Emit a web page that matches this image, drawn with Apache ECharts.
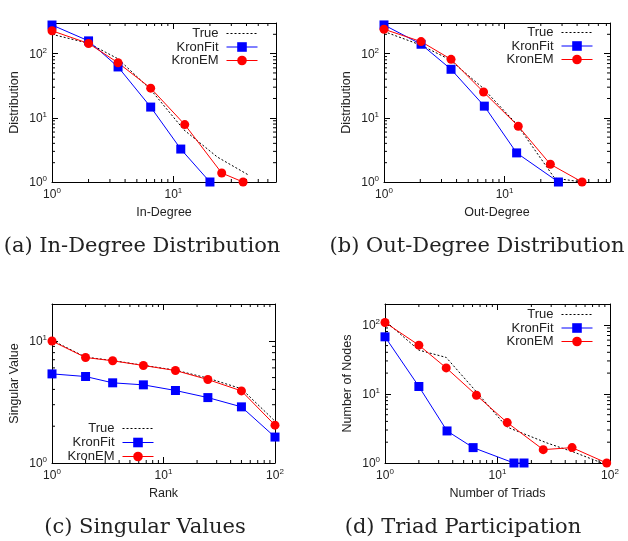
<!DOCTYPE html>
<html>
<head>
<meta charset="utf-8">
<script src="https://cdn.jsdelivr.net/npm/echarts@6/dist/echarts.min.js"></script>
<style>
html,body{margin:0;padding:0;background:#fff;}
#chart{width:628px;height:541px;}
</style>
</head>
<body>
<div id="chart"></div>
<script>
// ---- (a) In-Degree Distribution ----
const inTrueX = [1, 2, 3.5, 6.5, 12.2, 23, 42];
const inTrueY = [200, 145, 83, 27.5, 6.5, 2.45, 1.27];
const inFitX  = [1, 2, 3.5, 6.5, 11.5, 20];
const inFitY  = [279, 158, 62, 14.7, 3.26, 1];
const inEmX   = [1, 2, 3.5, 6.5, 12.4, 25, 37.5];
const inEmY   = [227, 144, 72, 29, 7.85, 1.38, 1];

// ---- (b) Out-Degree Distribution ----
const outTrueX = [1, 2, 3.5, 6.5, 12.6, 26, 44];
const outTrueY = [221, 137, 81, 30, 8, 1.15, 1];
const outFitX  = [1, 2.03, 3.6, 6.8, 12.6, 28];
const outFitY  = [280, 140, 57, 15.2, 2.84, 1];
const outEmX   = [1, 2.03, 3.6, 6.7, 13, 24, 44];
const outEmY   = [240, 154, 81.5, 25.2, 7.4, 1.89, 1];

// ---- (c) Singular Values ----
const rank   = [1, 2, 3.5, 6.6, 12.8, 25, 50, 100];
const svTrue = [10.1, 7.35, 6.9, 6.3, 5.75, 4.95, 4.05, 2.2];
const svFit  = [5.36, 5.1, 4.53, 4.36, 3.92, 3.43, 2.88, 1.63];
const svEm   = [9.95, 7.3, 6.86, 6.28, 5.71, 4.82, 3.89, 2.04];

// ---- (d) Triad Participation ----
const triTrueX = [1, 2, 3.5, 6.5, 12.1, 27.5, 47.5, 85];
const triTrueY = [114, 43, 33.7, 10.7, 3.32, 1.95, 1.44, 1];
const triFitX  = [1, 2, 3.56, 6.07, 14, 17.2];
const triFitY  = [67, 12.8, 2.91, 1.67, 1, 1];
const triEmX   = [1, 2, 3.5, 6.5, 12.2, 25.5, 46, 93.5];
const triEmY   = [108, 50.7, 23.8, 9.56, 3.84, 1.56, 1.67, 1];

// ---- axis text and minor tick values ----
const seriesNames = ['True', 'KronFit', 'KronEM'];
const minorTickValues = [2,3,4,5,6,7,8,9,20,30,40,50,60,70,80,90,200,300,400,500,600,700,800,900];
const panelTitles = ['(a) In-Degree Distribution', '(b) Out-Degree Distribution', '(c) Singular Values', '(d) Triad Participation'];
const xNames = ['In-Degree', 'Out-Degree', 'Rank', 'Number of Triads'];
const yNames = ['Distribution', 'Distribution', 'Singular Value', 'Number of Nodes'];
const xRanges = [[1, 70], [1, 75], [1, 100], [1, 100]];
const yRanges = [[1, 300], [1, 300], [1, 20], [1, 200]];

const panels = [
  {trueX: inTrueX, trueY: inTrueY, fitX: inFitX, fitY: inFitY, emX: inEmX, emY: inEmY},
  {trueX: outTrueX, trueY: outTrueY, fitX: outFitX, fitY: outFitY, emX: outEmX, emY: outEmY},
  {trueX: rank, trueY: svTrue, fitX: rank, fitY: svFit, emX: rank, emY: svEm},
  {trueX: triTrueX, trueY: triTrueY, fitX: triFitX, fitY: triFitY, emX: triEmX, emY: triEmY}
];

// layout (pixels)
const grids = [
  {left: 52, top: 23, width: 224, height: 159},
  {left: 384, top: 23, width: 226, height: 159},
  {left: 52, top: 304, width: 223, height: 159},
  {left: 385, top: 304, width: 225, height: 159}
];
const legendPos = [
  {right: 370, top: 27, itemGap: 0.5},
  {right: 35, top: 26, itemGap: 0.5},
  {right: 474, top: 422, itemGap: 1},
  {right: 35, top: 308, itemGap: 0.5}
];
const titlePos = [[142, 247], [477, 247], [145, 528], [463, 528]];

const zip = (xs, ys) => xs.map((x, i) => [x, ys[i]]);

function powLabel(v) {
  const e = Math.round(Math.log10(v));
  if (Math.abs(Math.pow(10, e) - v) > 1e-6 * v) return '';
  return '{b|10}{s|' + e + '}';
}
const labelRich = {
  b: {fontSize: 12, fontFamily: 'Liberation Sans', color: '#222', lineHeight: 14, verticalAlign: 'bottom'},
  s: {fontSize: 8, fontFamily: 'Liberation Sans', color: '#222', lineHeight: 9, verticalAlign: 'top'}
};
const lineBlack = {color: '#000', width: 1};

const xAxes = [], yAxes = [], series = [], legends = [], graphics = [];

function minorX(params, api) {
  const cs = params.coordSys;
  const p = api.coord([api.value(0), api.value(1)]);
  const yb = cs.y + cs.height, yt = cs.y;
  return {type: 'group', children: [
    {type: 'line', shape: {x1: p[0], y1: yb, x2: p[0], y2: yb - 3}, style: {stroke: '#000', lineWidth: 1}},
    {type: 'line', shape: {x1: p[0], y1: yt, x2: p[0], y2: yt + 3}, style: {stroke: '#000', lineWidth: 1}}
  ]};
}
function minorY(params, api) {
  const cs = params.coordSys;
  const p = api.coord([api.value(0), api.value(1)]);
  const xl = cs.x, xr = cs.x + cs.width;
  return {type: 'group', children: [
    {type: 'line', shape: {x1: xl, y1: p[1], x2: xl + 3, y2: p[1]}, style: {stroke: '#000', lineWidth: 1}},
    {type: 'line', shape: {x1: xr, y1: p[1], x2: xr - 3, y2: p[1]}, style: {stroke: '#000', lineWidth: 1}}
  ]};
}

panels.forEach((pn, g) => {
  const [xmin, xmax] = xRanges[g];
  const [ymin, ymax] = yRanges[g];
  const xi = xAxes.length, yi = yAxes.length;
  // main x (bottom)
  xAxes.push({
    type: 'log', logBase: 10, gridIndex: g, min: xmin, max: xmax, position: 'bottom',
    axisLine: {show: true, onZero: false, lineStyle: lineBlack},
    axisTick: {show: true, inside: true, length: 6, lineStyle: lineBlack},
    axisLabel: {show: true, margin: 5, formatter: powLabel, rich: labelRich, showMinLabel: true, showMaxLabel: true, hideOverlap: false},
    splitLine: {show: false}, minorTick: {show: false},
    name: xNames[g], nameLocation: 'middle', nameGap: 24,
    nameTextStyle: {fontSize: 12.5, fontFamily: 'Liberation Sans', color: '#222'}
  });
  // mirrored x (top)
  xAxes.push({
    type: 'log', logBase: 10, gridIndex: g, min: xmin, max: xmax, position: 'top',
    axisLine: {show: true, onZero: false, lineStyle: lineBlack},
    axisTick: {show: true, inside: true, length: 6, lineStyle: lineBlack},
    axisLabel: {show: false}, splitLine: {show: false}
  });
  yAxes.push({
    type: 'log', logBase: 10, gridIndex: g, min: ymin, max: ymax, position: 'left',
    axisLine: {show: true, onZero: false, lineStyle: lineBlack},
    axisTick: {show: true, inside: true, length: 6, lineStyle: lineBlack},
    axisLabel: {show: true, margin: 5, formatter: powLabel, rich: labelRich, showMinLabel: true, showMaxLabel: true, hideOverlap: false},
    splitLine: {show: false}, minorTick: {show: false},
    name: yNames[g], nameLocation: 'middle', nameGap: 31,
    nameTextStyle: {fontSize: 12.5, fontFamily: 'Liberation Sans', color: '#222'}
  });
  yAxes.push({
    type: 'log', logBase: 10, gridIndex: g, min: ymin, max: ymax, position: 'right',
    axisLine: {show: true, onZero: false, lineStyle: lineBlack},
    axisTick: {show: true, inside: true, length: 6, lineStyle: lineBlack},
    axisLabel: {show: false}, splitLine: {show: false}
  });

  // minor ticks
  series.push({
    type: 'custom', xAxisIndex: xi, yAxisIndex: yi, silent: true, clip: false,
    renderItem: minorX,
    data: minorTickValues.filter(v => v > xmin && v < xmax).map(v => [v, ymin])
  });
  series.push({
    type: 'custom', xAxisIndex: xi, yAxisIndex: yi, silent: true, clip: false,
    renderItem: minorY,
    data: minorTickValues.filter(v => v > ymin && v < ymax).map(v => [xmin, v])
  });

  series.push({
    name: 'True', type: 'line', xAxisIndex: xi, yAxisIndex: yi,
    data: zip(pn.trueX, pn.trueY), symbol: 'none', clip: false,
    color: '#000',
    lineStyle: {color: '#000', width: 1, type: [2, 2]}
  });
  series.push({
    name: 'KronFit', type: 'line', xAxisIndex: xi, yAxisIndex: yi,
    data: zip(pn.fitX, pn.fitY), symbol: 'rect', symbolSize: 9, clip: false,
    color: '#0000ff',
    itemStyle: {color: '#0000ff'},
    lineStyle: {color: '#0000ff', width: 1}
  });
  series.push({
    name: 'KronEM', type: 'line', xAxisIndex: xi, yAxisIndex: yi,
    data: zip(pn.emX, pn.emY), symbol: 'circle', symbolSize: 9, clip: false,
    color: '#ff0000',
    itemStyle: {color: '#ff0000'},
    lineStyle: {color: '#ff0000', width: 1}
  });

  const lp = legendPos[g];
  legends.push({
    orient: 'vertical', align: 'right', right: lp.right, top: lp.top, padding: 0,
    itemWidth: 31, itemHeight: 12, itemGap: lp.itemGap, selectedMode: false,
    lineStyle: {width: 1},
    data: [{name: seriesNames[0], itemStyle: {opacity: 0}}, seriesNames[1], seriesNames[2]],
    textStyle: {fontSize: 13, fontFamily: 'Liberation Sans', color: '#222', padding: [0, 3, 0, 0]}
  });

  graphics.push({
    type: 'text', x: titlePos[g][0], y: titlePos[g][1],
    style: {text: panelTitles[g], fontSize: 21, fontFamily: 'DejaVu Serif', fill: '#222', align: 'center', verticalAlign: 'middle'}
  });
});

const chart = echarts.init(document.getElementById('chart'), null, {renderer: 'canvas'});
chart.setOption({
  animation: false,
  backgroundColor: '#fff',
  grid: grids.map(g => Object.assign({containLabel: false, outerBoundsMode: 'none'}, g)),
  xAxis: xAxes,
  yAxis: yAxes,
  legend: legends,
  series: series,
  graphic: graphics
});
</script>
</body>
</html>
